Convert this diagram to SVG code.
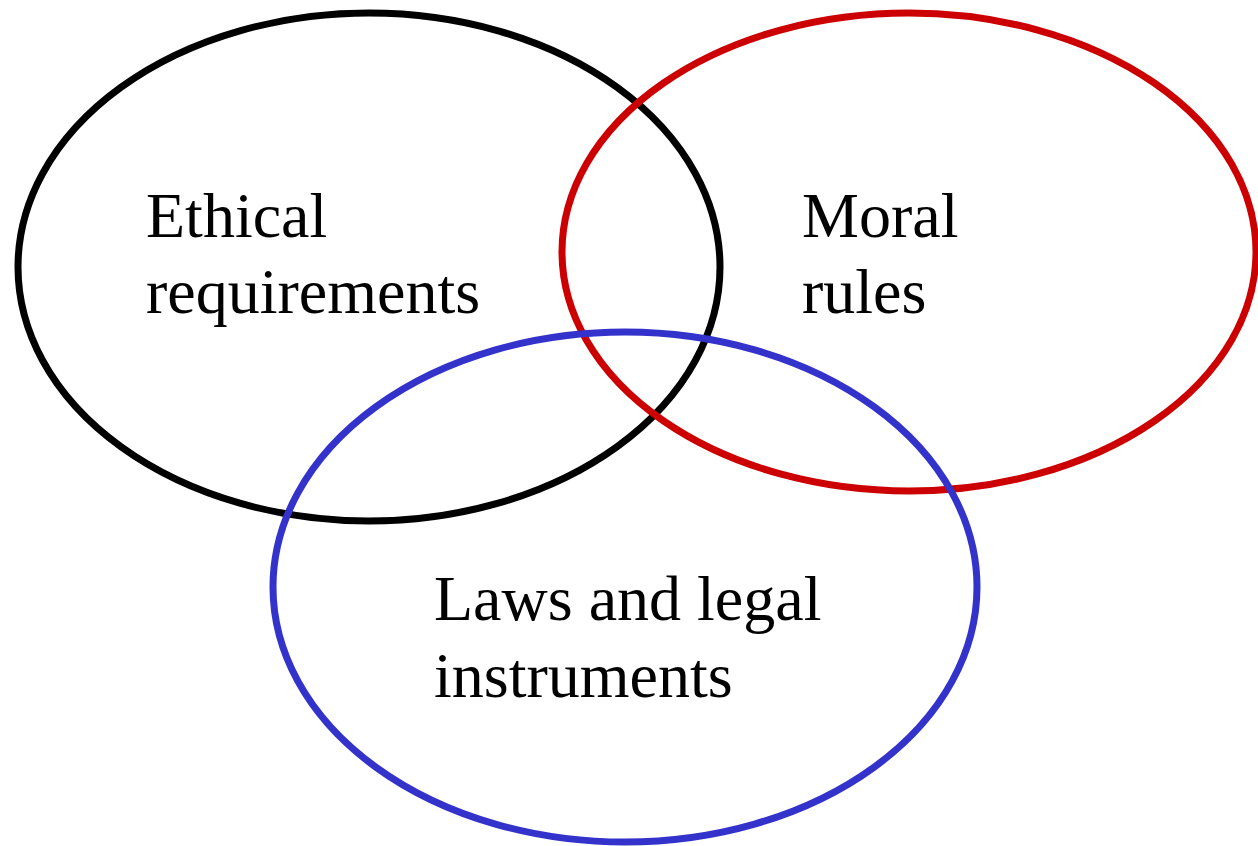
<svg xmlns="http://www.w3.org/2000/svg" width="1258" height="846" viewBox="0 0 1258 846">
  <style>
    .ring { fill: none; stroke-width: 7; }
    .label { font-family: "Liberation Serif", "Times New Roman", serif; font-size: 64px; fill: #000; }
  </style>
  <rect width="1258" height="846" fill="#fff"/>
  <g id="ethical">
    <ellipse class="ring" cx="369" cy="267" rx="351" ry="254" stroke="#000"/>
    <text class="label" x="146" y="237">Ethical</text>
    <text class="label" x="146" y="313">requirements</text>
  </g>
  <g id="moral">
    <ellipse class="ring" cx="909" cy="252" rx="347" ry="239" stroke="#cc0000"/>
    <text class="label" x="802" y="237">Moral</text>
    <text class="label" x="802" y="313">rules</text>
  </g>
  <g id="laws">
    <ellipse class="ring" cx="625" cy="587" rx="352" ry="255" stroke="#3333cc"/>
    <text class="label" x="434" y="620">Laws and legal</text>
    <text class="label" x="434" y="697">instruments</text>
  </g>
  <g id="connectors"/>
</svg>
